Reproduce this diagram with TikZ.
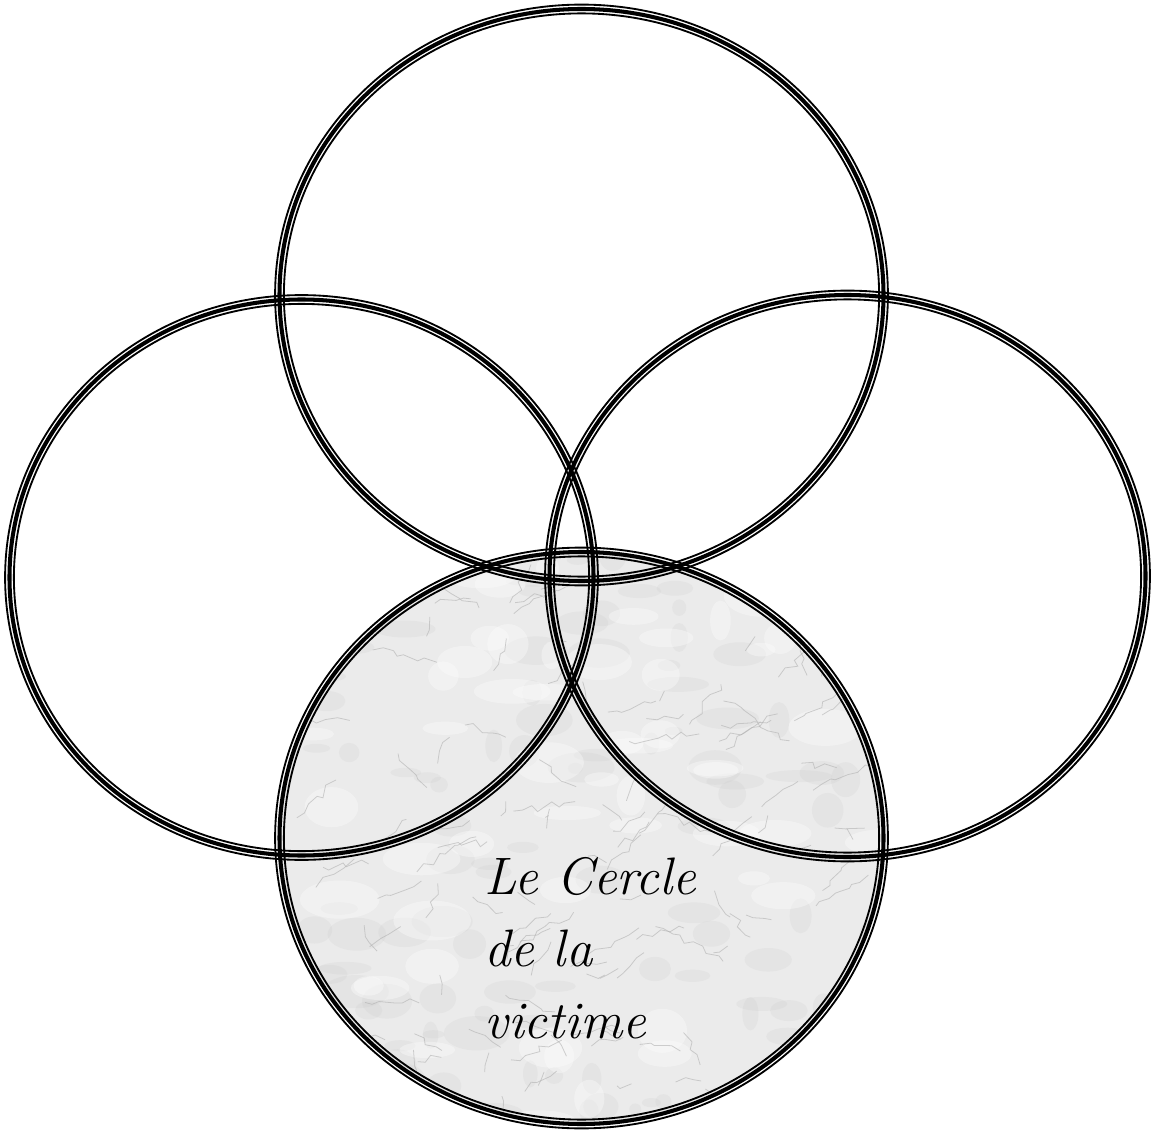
\documentclass[tikz,border=0pt]{standalone}
\usetikzlibrary{decorations.pathmorphing}
\begin{document}
\begin{tikzpicture}[x=0.02cm,y=-0.02cm,
  ringthin/.style={draw=black,line width=1.05pt},
  ringthick/.style={draw=black,line width=2.3pt},
  vein/.style={draw=gray!60,line width=0.45pt,opacity=0.6,decorate,decoration={random steps,segment length=5pt,amplitude=2.5pt}},
  blot/.style={fill=gray!45,opacity=0.18,draw=none},
  light/.style={fill=white,opacity=0.35,draw=none},
  label/.style={font=\fontsize{30}{41}\selectfont\itshape,align=left,anchor=north west,inner sep=0pt}]
\useasboundingbox (0,0) rectangle (1159,1131);
% marble fill of the bottom circle
\begin{scope}
  \clip (581.5,838) ellipse [x radius=302,y radius=286];
  \fill[gray!16] (270,540) rectangle (900,1135);
  \pgfmathsetseed{7}
  \foreach \i in {1,...,110}{
    \pgfmathsetmacro{\bx}{280+rnd*610}
    \pgfmathsetmacro{\by}{550+rnd*580}
    \pgfmathsetmacro{\bw}{6+rnd*28}
    \pgfmathsetmacro{\bh}{4+rnd*14}
    \fill[blot] (\bx,\by) ellipse [x radius=\bw,y radius=\bh];
  }
  \foreach \i in {1,...,60}{
    \pgfmathsetmacro{\bx}{280+rnd*610}
    \pgfmathsetmacro{\by}{550+rnd*580}
    \pgfmathsetmacro{\bw}{10+rnd*30}
    \pgfmathsetmacro{\bh}{6+rnd*16}
    \fill[light] (\bx,\by) ellipse [x radius=\bw,y radius=\bh];
  }
  \foreach \i in {1,...,140}{
    \pgfmathsetmacro{\ax}{280+rnd*610}
    \pgfmathsetmacro{\ay}{550+rnd*580}
    \pgfmathsetmacro{\dx}{(rnd-0.35)*110}
    \pgfmathsetmacro{\dy}{(rnd-0.5)*80}
    \draw[vein] (\ax,\ay) -- ++(\dx,\dy);
  }
\end{scope}
% rings
\foreach \n/\cx/\cy/\rx/\ry in {top/581.5/295/302/286, left/301.5/577.5/292/278, right/847.5/576/298/281, bottom/581.5/838/302/286}{
  \draw[ringthin] (\cx,\cy) ellipse [x radius=\rx+4.4,y radius=\ry+4.4];
  \draw[ringthick] (\cx,\cy) ellipse [x radius=\rx,y radius=\ry];
  \draw[ringthin] (\cx,\cy) ellipse [x radius=\rx-4.4,y radius=\ry-4.4];
}
\node[label] (victime) at (484,857) {Le Cercle\\de la\\victime};
\end{tikzpicture}
\end{document}
